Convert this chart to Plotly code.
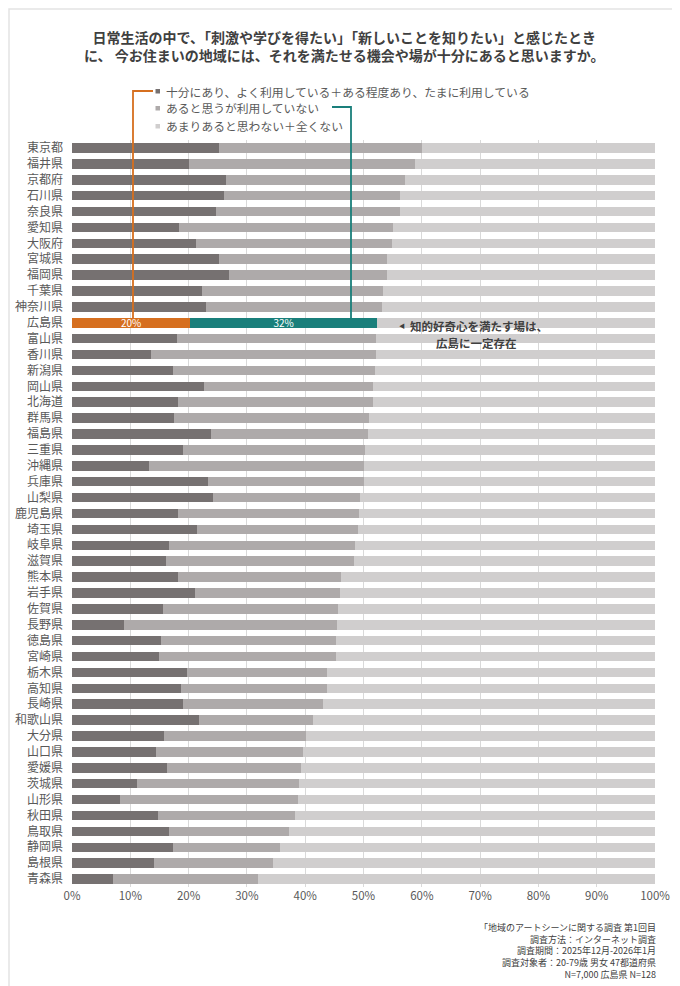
import plotly.graph_objects as go

prefectures = ["東京都", "福井県", "京都府", "石川県", "奈良県", "愛知県", "大阪府", "宮城県", "福岡県", "千葉県",
               "神奈川県", "広島県", "富山県", "香川県", "新潟県", "岡山県", "北海道", "群馬県", "福島県", "三重県",
               "沖縄県", "兵庫県", "山梨県", "鹿児島県", "埼玉県", "岐阜県", "滋賀県", "熊本県", "岩手県", "佐賀県",
               "長野県", "徳島県", "宮崎県", "栃木県", "高知県", "長崎県", "和歌山県", "大分県", "山口県", "愛媛県",
               "茨城県", "山形県", "秋田県", "鳥取県", "静岡県", "島根県", "青森県"]

# 十分にあり、よく利用している＋ある程度あり、たまに利用している
use_pct = [25.2, 20.0, 26.4, 26.1, 24.7, 18.3, 21.2, 25.2, 27.0, 22.3,
           23.0, 20.3, 18.0, 13.5, 17.3, 22.6, 18.1, 17.5, 23.9, 19.0,
           13.2, 23.3, 24.1, 18.1, 21.4, 16.6, 16.1, 18.2, 21.1, 15.6,
           9.0, 15.3, 15.0, 19.8, 18.7, 19.0, 21.7, 15.8, 14.4, 16.3,
           11.1, 8.2, 14.7, 16.7, 17.3, 14.0, 7.1]
# あると思うが利用していない
notuse_pct = [34.8, 38.9, 30.8, 30.1, 31.5, 36.8, 33.7, 28.9, 27.1, 31.0,
              30.2, 32.0, 34.2, 38.7, 34.6, 29.1, 33.5, 33.4, 26.9, 31.3,
              36.8, 26.7, 25.3, 31.2, 27.7, 31.9, 32.2, 28.0, 24.8, 30.1,
              36.4, 30.0, 30.3, 24.0, 25.0, 24.0, 19.6, 24.4, 25.3, 23.0,
              27.8, 30.6, 23.5, 20.5, 18.3, 20.5, 24.8]
# あまりあると思わない＋全くない (remainder)
none_pct = [round(100 - a - b, 1) for a, b in zip(use_pct, notuse_pct)]

series_names = ["十分にあり、よく利用している＋ある程度あり、たまに利用している",
                "あると思うが利用していない",
                "あまりあると思わない＋全くない"]
x_ticks = [0, 10, 20, 30, 40, 50, 60, 70, 80, 90, 100]
x_ticklabels = [f"{v}%" for v in x_ticks]

highlight = "広島県"
title_lines = ["日常生活の中で、「刺激や学びを得たい」「新しいことを知りたい」と感じたとき",
               "に、 今お住まいの地域には、それを満たせる機会や場が十分にあると思いますか。"]
callout_lines = ["知的好奇心を満たす場は、", "広島に一定存在"]
footer_lines = ["「地域のアートシーンに関する調査 第1回目",
                "調査方法：インターネット調査",
                "調査期間：2025年12月-2026年1月",
                "調査対象者：20-79歳 男女 47都道府県",
                "N=7,000 広島県 N=128"]

FONT = "Noto Sans CJK JP"
grey_colors = ["#767171", "#AEAAAA", "#D0CECE"]
hl_colors = ["#D66F1F", "#1A7F7B", "#D0CECE"]

OFF = 8  # page body margin
W, H = 680 - OFF, 986 - OFF
# plot area in page pixels
PL, PR, PT, PB = 72, 655, 140, 887
L, R, T, B = PL - OFF, PR - OFF, PT - OFF, PB - OFF


def px(p):
    return (p - PL) / (PR - PL)


def py(p):
    return (PB - p) / (PB - PT)


fig = go.Figure()
for i, vals in enumerate([use_pct, notuse_pct, none_pct]):
    colors = [hl_colors[i] if p == highlight else grey_colors[i] for p in prefectures]
    texts = [f"{round(v)}%" if (p == highlight and i < 2) else "" for p, v in zip(prefectures, vals)]
    fig.add_trace(go.Bar(
        y=prefectures, x=vals, orientation="h", name=series_names[i],
        marker=dict(color=colors, line=dict(width=0)),
        text=texts, textposition="inside", insidetextanchor="middle",
        textfont=dict(color="white", size=10, family=FONT),
        textangle=0, showlegend=False,
    ))

fig.update_layout(
    width=W, height=H, barmode="stack", bargap=0.4,
    margin=dict(l=L, r=W - R, t=T, b=H - B, autoexpand=False),
    paper_bgcolor="white", plot_bgcolor="white",
    font=dict(family=FONT, color="#595959"),
    uniformtext=dict(minsize=8, mode="show"),
)
fig.update_xaxes(range=[0, 100], tickvals=x_ticks, ticktext=x_ticklabels,
                 showgrid=True, gridcolor="#D9D9D9", gridwidth=1, zeroline=False,
                 showline=False, tickfont=dict(size=11.5, color="#595959"), fixedrange=True)
fig.update_yaxes(type="category", categoryorder="array", categoryarray=prefectures,
                 autorange="reversed", showgrid=False, zeroline=False, showline=False,
                 ticks="", ticklabelstandoff=8,
                 tickfont=dict(size=12, color="#595959"), fixedrange=True)

shapes = []
# outer border
shapes.append(dict(type="rect", xref="paper", yref="paper",
                   x0=px(9), x1=px(675), y0=py(1000), y1=py(OFF + 1),
                   line=dict(color="#E3E3E3", width=1.5), fillcolor="rgba(0,0,0,0)", layer="below"))
# legend markers
leg_y = [91, 108, 126]
for c, yy in zip(grey_colors, leg_y):
    shapes.append(dict(type="rect", xref="paper", yref="paper",
                       x0=px(155.5), x1=px(160), y0=py(yy + 2.5), y1=py(yy - 2),
                       fillcolor=c, line=dict(width=0)))
# leader lines
shapes.append(dict(type="path", xref="paper", yref="paper",
                   path=f"M {px(153)},{py(91)} L {px(133)},{py(91)} L {px(133)},{py(319)}",
                   line=dict(color=hl_colors[0], width=1.8)))
shapes.append(dict(type="path", xref="paper", yref="paper",
                   path=f"M {px(332)},{py(107)} L {px(351)},{py(107)} L {px(351)},{py(319)}",
                   line=dict(color=hl_colors[1], width=1.8)))
fig.update_layout(shapes=shapes)

ann = []
ann.append(dict(xref="paper", yref="paper", x=px(344), y=py(46),
                text="<br>".join(f"<b>{line}</b>" for line in title_lines),
                showarrow=False, xanchor="center", yanchor="middle", align="center",
                font=dict(size=14, color="#404040", family=FONT)))
for name, yy in zip(series_names, leg_y):
    ann.append(dict(xref="paper", yref="paper", x=px(164), y=py(yy), text=name,
                    showarrow=False, xanchor="left", yanchor="middle",
                    font=dict(size=11.8, color="#595959", family=FONT)))
ann.append(dict(xref="paper", yref="paper", x=px(402), y=py(325.5), text="◀",
                showarrow=False, xanchor="center", yanchor="middle",
                font=dict(size=6, color="#404040", family=FONT)))
for k, line in enumerate(callout_lines):
    ann.append(dict(xref="paper", yref="paper", x=px(479 if k == 0 else 476), y=py(326 + 17 * k),
                    text=f"<b>{line}</b>", showarrow=False, xanchor="center", yanchor="middle",
                    font=dict(size=11.5, color="#404040", family=FONT)))
ann.append(dict(xref="paper", yref="paper", x=px(658), y=py(951), text="<br>".join(footer_lines),
                showarrow=False, xanchor="right", yanchor="middle", align="right",
                font=dict(size=9, color="#404040", family=FONT)))
fig.update_layout(annotations=ann)

fig.write_html("out.html")
